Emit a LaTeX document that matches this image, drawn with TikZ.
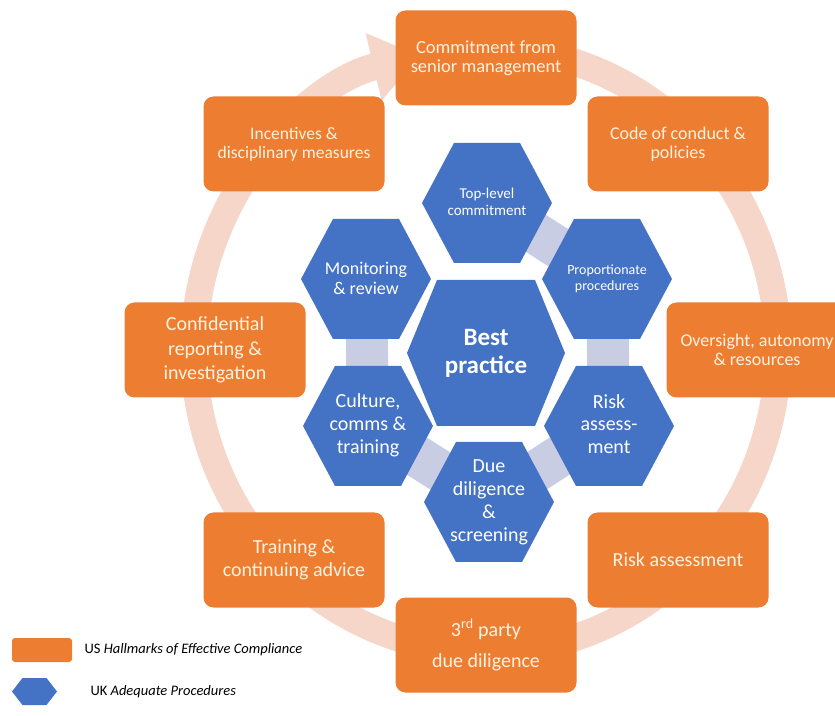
\documentclass[tikz,border=0pt]{standalone}
\usepackage{fontspec}
\setmainfont{Carlito}
\usetikzlibrary{arrows.meta,backgrounds}
\definecolor{usorange}{RGB}{237,125,49}
\definecolor{ukblue}{RGB}{68,114,196}
\definecolor{ringpeach}{RGB}{246,214,200}
\definecolor{linklilac}{RGB}{200,205,228}
\definecolor{cream}{RGB}{255,242,224}
\tikzset{
  usbox/.style={fill=usorange, rounded corners=10pt, text=cream, align=center,
    minimum width=181pt, minimum height=95pt, inner sep=0pt},
  uktext/.style={text=white, align=center, inner sep=0pt},
  link/.style={draw=linklilac, line width=42pt},
  pics/hexa/.style args={#1/#2/#3}{code={
    \fill[ukblue] (-#1,0) -- (-#2,#3) -- (#2,#3) -- (#1,0) -- (#2,-#3) -- (-#2,-#3) -- cycle;}}
}
\begin{document}
\begin{tikzpicture}[x=1pt, y=1pt]
  \useasboundingbox (0,0) rectangle (835,715);
  \clip (0,0) rectangle (835,715);
  \coordinate (ringc) at (486,365);
  \draw[ringpeach, line width=27pt, -{Triangle[width=66pt,length=48pt]}]
    ([shift={(75:292pt and 302pt)}]ringc) arc[start angle=75, end angle=-257, x radius=292pt, y radius=302pt];

  \node[usbox, font=\fontsize{18.5}{19}\selectfont] (commit) at (486,657) {Commitment from\\senior management};
  \node[usbox, font=\fontsize{18}{19}\selectfont] (code) at (678,571) {Code of conduct \&\\policies};
  \node[usbox, font=\fontsize{18}{19}\selectfont] (oversight) at (757,365) {Oversight, autonomy\\\& resources};
  \node[usbox, font=\fontsize{20}{22}\selectfont] (riskus) at (678,155) {Risk assessment};
  \node[usbox, font=\fontsize{20}{31}\selectfont] (thirdparty) at (486,70) {3\textsuperscript{rd} party\\due diligence};
  \node[usbox, font=\fontsize{20}{23}\selectfont] (training) at (294,155) {Training \&\\continuing advice};
  \node[usbox, font=\fontsize{20}{24.5}\selectfont] (confid) at (215,365) {Confidential\\reporting \&\\investigation};
  \node[usbox, font=\fontsize{17.5}{19}\selectfont] (incent) at (294,571) {Incentives \&\\disciplinary measures};

  \pic at (486,362) {hexa=79/49/73};
  \node[uktext, font=\bfseries\fontsize{25}{28}\selectfont] (best) at (486,362) {Best\\practice};
  \pic at (487,512) {hexa=65/33/60};
  \node[uktext, font=\fontsize{15}{17}\selectfont] (toplevel) at (487,513) {Top-level\\commitment};
  \pic at (607,436) {hexa=65/33/60};
  \node[uktext, font=\fontsize{14}{16}\selectfont] (propor) at (607,436) {Proportionate\\procedures};
  \pic at (609,289) {hexa=65/33/60};
  \node[uktext, font=\fontsize{20}{22.5}\selectfont] (riskuk) at (609,291) {Risk\\assess-\\ment};
  \pic at (489,213) {hexa=65/33/60};
  \node[uktext, font=\fontsize{20}{23}\selectfont] (duedil) at (489,213) {Due\\diligence\\\&\\screening};
  \pic at (368,289) {hexa=65/33/60};
  \node[uktext, font=\fontsize{20}{23}\selectfont] (culture) at (368,290) {Culture,\\comms \&\\training};
  \pic at (366,436) {hexa=65/33/60};
  \node[uktext, font=\fontsize{18}{20}\selectfont] (monitor) at (366,437) {Monitoring\\\& review};

  \begin{scope}[on background layer]
    \draw[link] (toplevel.center) -- (propor.center);
    \draw[link] (propor.center) -- (riskuk.center);
    \draw[link] (riskuk.center) -- (duedil.center);
    \draw[link] (duedil.center) -- (culture.center);
    \draw[link] (culture.center) -- (monitor.center);
  \end{scope}

  \node[fill=usorange, rounded corners=3pt, minimum width=60pt, minimum height=24pt, inner sep=0pt] (uskey) at (42,65) {};
  \node[anchor=west, font=\fontsize{14.5}{16}\selectfont] (uslabel) at (81,65) {US \textit{Hallmarks of Effective Compliance}};
  \pic at (34.5,23.5) {hexa=22.5/12/13.5};
  \node[anchor=west, font=\fontsize{14.5}{16}\selectfont] (uklabel) at (87,23) {UK \textit{Adequate Procedures}};
\end{tikzpicture}
\end{document}
